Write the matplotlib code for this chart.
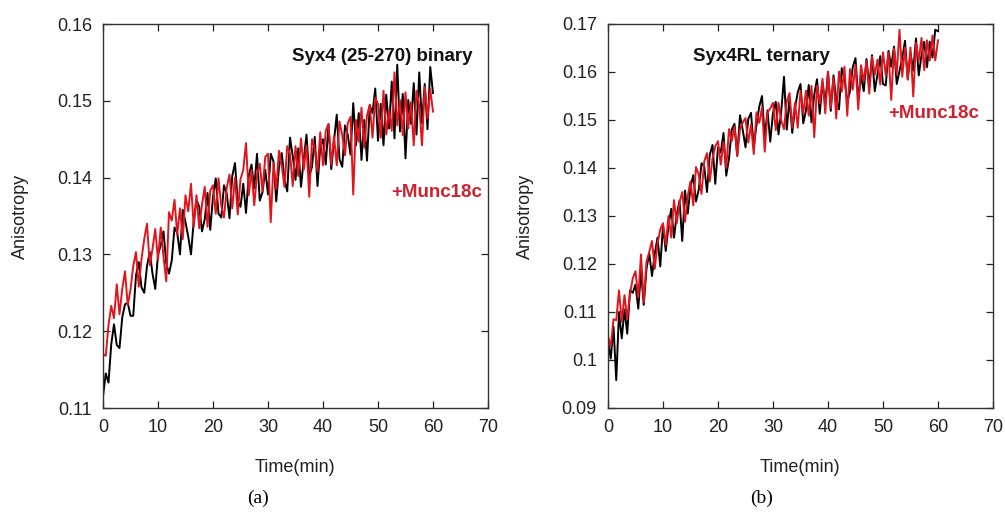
import numpy as np
import matplotlib
matplotlib.use("Agg")
import matplotlib.pyplot as plt

plt.rcParams['font.family'] = ['Liberation Sans', 'DejaVu Sans']

# time axis (min), one reading every 0.5 min
time_min = np.arange(0, 60.01, 0.5)

# Panel (a): Syx4 (25-270) binary, anisotropy x 1e4
a_black = np.array([
    1115, 1145, 1133, 1183, 1209, 1182, 1178, 1218, 1235, 1237,
    1220, 1220, 1273, 1290, 1257, 1250, 1285, 1303, 1275, 1255,
    1300, 1312, 1330, 1288, 1275, 1292, 1335, 1328, 1300, 1358,
    1342, 1323, 1300, 1344, 1371, 1362, 1330, 1346, 1380, 1332,
    1375, 1399, 1353, 1348, 1390, 1379, 1347, 1402, 1419, 1369,
    1362, 1392, 1354, 1403, 1417, 1386, 1431, 1370, 1381, 1410,
    1378, 1431, 1421, 1369, 1414, 1432, 1397, 1382, 1452, 1428,
    1397, 1438, 1388, 1424, 1456, 1402, 1414, 1453, 1389, 1440,
    1450, 1417, 1469, 1411, 1448, 1482, 1424, 1414, 1468, 1456,
    1430, 1497, 1442, 1484, 1423, 1475, 1422, 1494, 1484, 1516,
    1448, 1496, 1442, 1508, 1464, 1525, 1451, 1547, 1460, 1509,
    1425, 1501, 1470, 1523, 1456, 1537, 1471, 1522, 1463, 1544,
    1510]) / 1e4
a_red = np.array([
    1170, 1168, 1208, 1233, 1217, 1261, 1222, 1255, 1278, 1234,
    1254, 1285, 1303, 1258, 1294, 1320, 1340, 1286, 1307, 1333,
    1293, 1335, 1297, 1265, 1355, 1344, 1371, 1326, 1360, 1320,
    1377, 1356, 1392, 1336, 1377, 1334, 1365, 1388, 1336, 1383,
    1390, 1353, 1399, 1363, 1348, 1387, 1404, 1360, 1400, 1352,
    1398, 1410, 1445, 1377, 1410, 1364, 1404, 1418, 1382, 1427,
    1431, 1342, 1419, 1385, 1435, 1416, 1388, 1441, 1431, 1389,
    1441, 1402, 1451, 1410, 1442, 1375, 1450, 1438, 1408, 1459,
    1416, 1461, 1470, 1417, 1454, 1416, 1473, 1455, 1429, 1471,
    1479, 1378, 1475, 1447, 1491, 1439, 1481, 1495, 1452, 1504,
    1496, 1452, 1513, 1456, 1487, 1461, 1537, 1468, 1501, 1455,
    1511, 1464, 1498, 1442, 1513, 1494, 1442, 1518, 1477, 1515,
    1486]) / 1e4

# Panel (b): Syx4RL ternary, anisotropy x 1e4
b_black = np.array([
    1040, 1003, 1070, 958, 1100, 1045, 1105, 1055, 1145, 1140,
    1157, 1107, 1185, 1115, 1190, 1223, 1175, 1221, 1255, 1195,
    1280, 1227, 1280, 1315, 1255, 1303, 1332, 1248, 1353, 1305,
    1360, 1385, 1330, 1355, 1410, 1403, 1350, 1427, 1448, 1367,
    1443, 1432, 1473, 1384, 1420, 1480, 1492, 1425, 1510, 1479,
    1443, 1502, 1515, 1443, 1490, 1528, 1550, 1463, 1520, 1455,
    1515, 1538, 1470, 1518, 1590, 1480, 1545, 1473, 1525, 1558,
    1575, 1493, 1520, 1573, 1495, 1553, 1585, 1513, 1578, 1533,
    1600, 1519, 1593, 1542, 1522, 1608, 1585, 1538, 1560, 1610,
    1629, 1541, 1593, 1560, 1627, 1569, 1635, 1560, 1595, 1633,
    1575, 1572, 1644, 1611, 1653, 1575, 1602, 1629, 1665, 1585,
    1640, 1603, 1670, 1593, 1635, 1663, 1610, 1663, 1630, 1688,
    1685]) / 1e4
b_red = np.array([
    1050, 1028, 1085, 1083, 1145, 1080, 1135, 1085, 1137, 1170,
    1185, 1130, 1220, 1120, 1205, 1225, 1248, 1190, 1242, 1272,
    1285, 1240, 1300, 1255, 1333, 1285, 1328, 1350, 1288, 1342,
    1372, 1322, 1402, 1386, 1346, 1414, 1431, 1372, 1419, 1445,
    1456, 1407, 1454, 1400, 1481, 1456, 1486, 1426, 1481, 1495,
    1504, 1453, 1491, 1429, 1516, 1494, 1526, 1434, 1516, 1524,
    1536, 1479, 1536, 1499, 1481, 1539, 1556, 1484, 1536, 1484,
    1561, 1514, 1561, 1509, 1571, 1464, 1571, 1534, 1586, 1514,
    1601, 1525, 1589, 1503, 1601, 1559, 1611, 1509, 1606, 1563,
    1615, 1522, 1614, 1581, 1623, 1555, 1632, 1594, 1626, 1574,
    1641, 1593, 1640, 1542, 1649, 1596, 1688, 1590, 1651, 1584,
    1651, 1549, 1661, 1624, 1671, 1604, 1666, 1624, 1676, 1624,
    1666]) / 1e4

x_ticks = [0, 10, 20, 30, 40, 50, 60, 70]
a_yticks = [0.11, 0.12, 0.13, 0.14, 0.15, 0.16]
a_ylabels = ["0.11", "0.12", "0.13", "0.14", "0.15", "0.16"]
b_yticks = [0.09, 0.10, 0.11, 0.12, 0.13, 0.14, 0.15, 0.16, 0.17]
b_ylabels = ["0.09", "0.1", "0.11", "0.12", "0.13", "0.14", "0.15", "0.16", "0.17"]

BLACK = "#000000"
RED = "#e3141c"
TXT_RED = "#d0202e"

W, H = 1005, 516
fig = plt.figure(figsize=(W / 100, H / 100), dpi=100)

def px_axes(x0, y0, x1, y1):
    return fig.add_axes([x0 / W, 1 - y1 / H, (x1 - x0) / W, (y1 - y0) / H])

axA = px_axes(103, 24, 488, 408)
axB = px_axes(608, 24, 993, 408)

def style(ax, yticks, ylabels, ylim):
    ax.set_xlim(0, 70)
    ax.set_ylim(*ylim)
    ax.set_xticks(x_ticks)
    ax.set_xticklabels([str(v) for v in x_ticks])
    ax.set_yticks(yticks)
    ax.set_yticklabels(ylabels)
    ax.tick_params(direction='in', length=5, width=0.9, top=True, right=True,
                   labelsize=13, colors='#222222')
    ax.tick_params(axis='x', pad=8)
    ax.tick_params(axis='y', pad=8)
    for s in ax.spines.values():
        s.set_linewidth(1.0)
        s.set_color('#333333')

LW = 1.4
axA.plot(time_min, a_black, color=BLACK, lw=LW)
axA.plot(time_min, a_red, color=RED, lw=LW)
style(axA, a_yticks, a_ylabels, (0.11, 0.16))
axA.text(0.96, 0.915, "Syx4 (25-270) binary", transform=axA.transAxes,
         ha='right', va='center', fontsize=13.5, fontweight='bold', color='#111111')
axA.text(0.748, 0.56, "+Munc18c", transform=axA.transAxes,
         ha='left', va='center', fontsize=13.5, fontweight='bold', color=TXT_RED)

axB.plot(time_min, b_black, color=BLACK, lw=LW)
axB.plot(time_min, b_red, color=RED, lw=LW)
style(axB, b_yticks, b_ylabels, (0.09, 0.17))
axB.text(0.222, 0.915, "Syx4RL ternary", transform=axB.transAxes,
         ha='left', va='center', fontsize=13.5, fontweight='bold', color='#111111')
axB.text(0.727, 0.768, "+Munc18c", transform=axB.transAxes,
         ha='left', va='center', fontsize=13.5, fontweight='bold', color=TXT_RED)

for cx in (20, 525):
    fig.text(cx / W, 1 - 216 / H, "Anisotropy", rotation=90, ha='center', va='center',
             fontsize=13, color='#222222')
for cx in (295, 800):
    fig.text(cx / W, 1 - 467 / H, "Time(min)", ha='center', va='center',
             fontsize=13, color='#222222')

fig.text(258 / W, 1 - 498 / H, "(a)", ha='center', va='center', fontsize=14,
         family=['Liberation Serif', 'DejaVu Serif'])
fig.text(762 / W, 1 - 498 / H, "(b)", ha='center', va='center', fontsize=14,
         family=['Liberation Serif', 'DejaVu Serif'])

fig.savefig("out.png", dpi=100)
